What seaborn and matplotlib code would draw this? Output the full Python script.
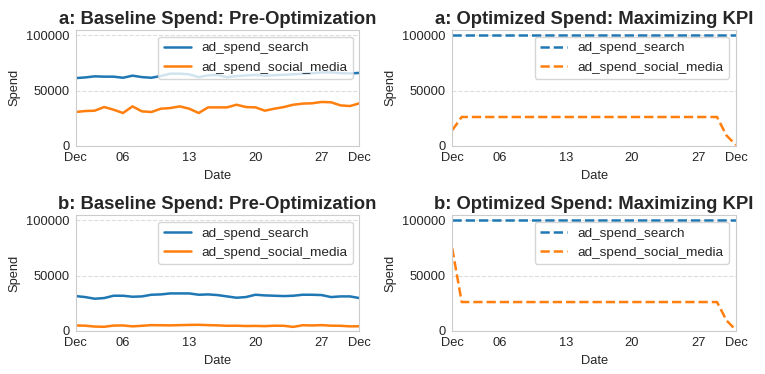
import seaborn as sns
import numpy as np
import pandas as pd
import matplotlib.pyplot as plt

dates = pd.date_range('2021-12-01', periods=31, freq='D')
tick_dates = pd.to_datetime(['2021-12-01', '2021-12-06', '2021-12-13',
                             '2021-12-20', '2021-12-27', '2021-12-31'])
tick_labels = ['Dec', '06', '13', '20', '27', 'Dec']

# baseline a
base_a_search = [61400, 62000, 63000, 62700, 62700, 61700, 63600, 62300, 61700, 63300,
                 65400, 65400, 64800, 62300, 63900, 64200, 62300, 63200, 63800, 64300,
                 63500, 64000, 64400, 64800, 65300, 65800, 66500, 66600, 65900, 65600,
                 66100]
base_a_social = [30700, 31600, 31900, 35200, 32800, 29800, 35800, 31300, 30700, 33700,
                 34300, 35800, 33700, 29800, 34900, 34900, 34900, 37300, 35200, 34900,
                 31900, 33700, 35200, 37300, 38300, 38600, 39800, 39500, 36700, 36100,
                 38600]

# baseline b
base_b_search = [31600, 30700, 29200, 29800, 31900, 31900, 31000, 31300, 32800, 33100,
                 34000, 34000, 34000, 32800, 33100, 32500, 31300, 30100, 30700, 32800,
                 32200, 31900, 31600, 31900, 32800, 32800, 32500, 30700, 31300, 31300,
                 29800]
base_b_social = [5000, 4800, 4000, 3800, 4900, 5000, 4200, 4700, 5300, 5200,
                 5100, 5300, 5500, 5600, 5300, 5100, 4700, 4800, 4500, 4600,
                 4400, 4800, 4700, 3700, 5200, 5000, 5300, 4800, 4700, 4200,
                 4300]

# optimized
opt_a_search = [100000] * 31
opt_a_social = [14200] + [26200] * 28 + [9500, 800]
opt_b_search = [100000] * 31
opt_b_social = [74900] + [26200] * 28 + [9600, 800]

panels = [
    ('a: Baseline Spend: Pre-Optimization', base_a_search, base_a_social, '-'),
    ('a: Optimized Spend: Maximizing KPI', opt_a_search, opt_a_social, '--'),
    ('b: Baseline Spend: Pre-Optimization', base_b_search, base_b_social, '-'),
    ('b: Optimized Spend: Maximizing KPI', opt_b_search, opt_b_social, '--'),
]

sns.set_style('whitegrid')
plt.rcParams['font.family'] = ['Liberation Sans', 'DejaVu Sans']

fig, axes = plt.subplots(2, 2, figsize=(7.65, 3.74), dpi=100)
plt.subplots_adjust(left=0.099, right=0.962, top=0.92, bottom=0.115,
                    wspace=0.327, hspace=0.595)

for ax, (title, search, social, ls) in zip(axes.flat, panels):
    sns.lineplot(x=dates, y=search, ax=ax, color='#1f77b4', linewidth=1.8,
                 linestyle=ls, label='ad_spend_search')
    sns.lineplot(x=dates, y=social, ax=ax, color='#ff7f0e', linewidth=1.8,
                 linestyle=ls, label='ad_spend_social_media')
    ax.set_title(title, fontsize=13.3, fontweight='bold', color='#262626', pad=4)
    ax.set_xlabel('Date', fontsize=9.3)
    ax.set_ylabel('Spend', fontsize=9.3)
    ax.set_xlim(dates[0], dates[-1])
    ax.set_ylim(0, 105000)
    ax.set_yticks([0, 50000, 100000])
    ax.set_yticklabels(['0', '50000', '100000'])
    ax.set_xticks(tick_dates)
    ax.set_xticklabels(tick_labels)
    ax.tick_params(labelsize=9.3, pad=1)
    ax.grid(False, axis='x')
    ax.grid(True, axis='y', linestyle='--', color='#dddddd', linewidth=0.8)
    for s in ax.spines.values():
        s.set_color('#cccccc')
    ax.legend(loc='upper right', fontsize=9.7, frameon=True, framealpha=0.8,
              edgecolor='#cccccc')

fig.savefig('out.png', dpi=100)
